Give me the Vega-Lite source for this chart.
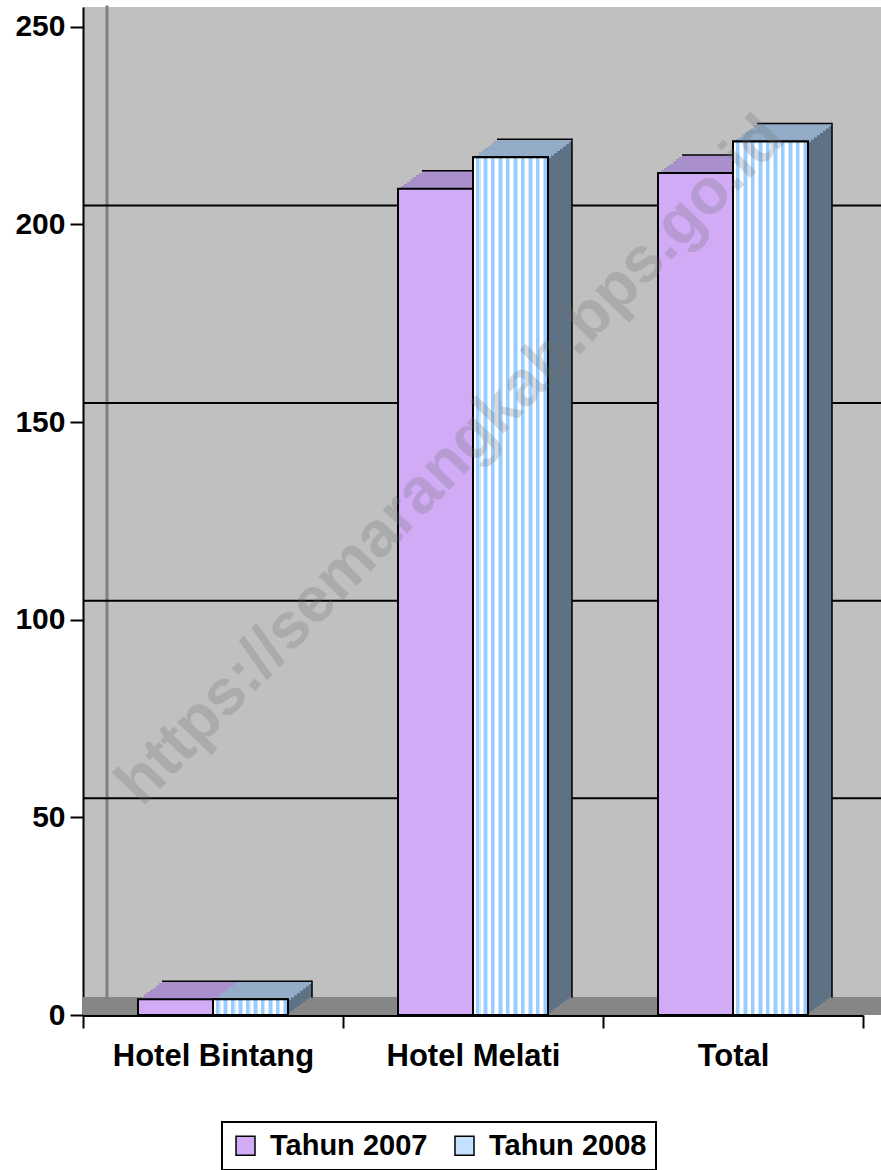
{
  "$schema": "https://vega.github.io/schema/vega-lite/v6.json",
  "width": 798,
  "height": 1008,
  "autosize": "none",
  "padding": {"left": 83, "top": 7, "right": 0, "bottom": 155},
  "background": "white",
  "config": {
    "font": "Liberation Sans",
    "view": {"fill": "#c0c0c0", "stroke": null},
    "axis": {"labelFont": "Liberation Sans", "labelFontWeight": "bold", "labelColor": "black", "domainColor": "black", "tickColor": "black", "grid": false, "labelLimit": 400},
    "axisX": {"domainWidth": 3, "tickWidth": 2, "tickSize": 13, "labelFontSize": 31, "labelPadding": 13, "labelAngle": 0},
    "axisY": {"domainWidth": 2, "tickWidth": 2, "tickSize": 13, "labelFontSize": 30, "labelPadding": 5},
    "legend": {"direction": "horizontal", "padding": 9, "strokeColor": "black", "strokeWidth": 2, "fillColor": "white", "symbolType": "square", "symbolSize": 361, "symbolStrokeColor": "black", "symbolStrokeWidth": 1.5, "symbolOpacity": 1, "labelFont": "Liberation Sans", "labelFontSize": 29, "labelFontWeight": "bold", "labelColor": "black", "labelOffset": 10, "columnPadding": 22, "labelLimit": 400}
  },
  "resolve": {"scale": {"xOffset": "independent"}},
  "data": {"values": [
    {"kategori": "Hotel Bintang", "tahun": "Tahun 2007", "jumlah": 4},
    {"kategori": "Hotel Bintang", "tahun": "Tahun 2008", "jumlah": 4},
    {"kategori": "Hotel Melati", "tahun": "Tahun 2007", "jumlah": 209},
    {"kategori": "Hotel Melati", "tahun": "Tahun 2008", "jumlah": 217},
    {"kategori": "Total", "tahun": "Tahun 2007", "jumlah": 213},
    {"kategori": "Total", "tahun": "Tahun 2008", "jumlah": 221}
  ]},
  "layer": [
    {
      "data": {"values": [{"dasar": 0}]},
      "mark": {"type": "rect", "color": "#868686", "y2Offset": -18},
      "encoding": {
        "y": {"field": "dasar", "type": "quantitative", "scale": {"domain": [0, 255], "nice": false}, "axis": {"title": null, "values": [0, 50, 100, 150, 200, 250]}},
        "y2": {"field": "dasar"}
      }
    },
    {
      "data": {"values": [{"dinding": "kiri"}]},
      "mark": {"type": "bar", "width": 0.01, "fill": null, "fillOpacity": 0, "stroke": "#808080", "strokeWidth": 3, "y2Offset": -18},
      "encoding": {
        "x": {"datum": "Hotel Bintang", "type": "nominal", "scale": {"domain": ["Hotel Bintang", "Hotel Melati", "Total"], "range": [0, 780], "paddingInner": 0, "paddingOuter": 0}, "axis": {"title": null, "tickBand": "extent", "labelAngle": 0}},
        "xOffset": {"datum": "Tahun 2007", "type": "nominal", "scale": {"domain": ["Tahun 2007", "Tahun 2008"], "range": [-13.5, 136.5], "paddingInner": 0, "paddingOuter": 0}},
        "y": {"datum": 255, "type": "quantitative", "scale": {"domain": [0, 255], "nice": false}, "axis": {"title": null, "values": [0, 50, 100, 150, 200, 250]}},
        "y2": {"datum": 0}
      }
    },
    {
      "data": {"values": [{"garis": 50}, {"garis": 100}, {"garis": 150}, {"garis": 200}]},
      "mark": {"type": "rule", "color": "black", "strokeWidth": 2, "yOffset": -19},
      "encoding": {
        "y": {"field": "garis", "type": "quantitative", "scale": {"domain": [0, 255], "nice": false}, "axis": {"title": null, "values": [0, 50, 100, 150, 200, 250]}}
      }
    },
    {
      "mark": {"type": "bar", "color": "#5f7184", "yOffset": -18, "y2Offset": -18},
      "encoding": {
        "x": {"field": "kategori", "type": "nominal", "sort": null, "scale": {"domain": ["Hotel Bintang", "Hotel Melati", "Total"], "range": [0, 780], "paddingInner": 0, "paddingOuter": 0}, "axis": {"title": null, "tickBand": "extent", "labelAngle": 0}},
        "xOffset": {"field": "tahun", "type": "nominal", "scale": {"domain": ["Tahun 2007", "Tahun 2008"], "range": [79, 229], "paddingInner": 0, "paddingOuter": 0}},
        "y": {"field": "jumlah", "type": "quantitative", "scale": {"domain": [0, 255], "nice": false}, "axis": {"title": null, "values": [0, 50, 100, 150, 200, 250]}},
        "y2": {"datum": 0}
      }
    },
    {
      "mark": {"type": "bar", "color": "#5f7184", "yOffset": -15.75, "y2Offset": -15.75},
      "encoding": {
        "x": {"field": "kategori", "type": "nominal", "sort": null, "scale": {"domain": ["Hotel Bintang", "Hotel Melati", "Total"], "range": [0, 780], "paddingInner": 0, "paddingOuter": 0}, "axis": {"title": null, "tickBand": "extent", "labelAngle": 0}},
        "xOffset": {"field": "tahun", "type": "nominal", "scale": {"domain": ["Tahun 2007", "Tahun 2008"], "range": [76, 226], "paddingInner": 0, "paddingOuter": 0}},
        "y": {"field": "jumlah", "type": "quantitative", "scale": {"domain": [0, 255], "nice": false}, "axis": {"title": null, "values": [0, 50, 100, 150, 200, 250]}},
        "y2": {"datum": 0}
      }
    },
    {
      "mark": {"type": "bar", "color": "#5f7184", "yOffset": -13.5, "y2Offset": -13.5},
      "encoding": {
        "x": {"field": "kategori", "type": "nominal", "sort": null, "scale": {"domain": ["Hotel Bintang", "Hotel Melati", "Total"], "range": [0, 780], "paddingInner": 0, "paddingOuter": 0}, "axis": {"title": null, "tickBand": "extent", "labelAngle": 0}},
        "xOffset": {"field": "tahun", "type": "nominal", "scale": {"domain": ["Tahun 2007", "Tahun 2008"], "range": [73, 223], "paddingInner": 0, "paddingOuter": 0}},
        "y": {"field": "jumlah", "type": "quantitative", "scale": {"domain": [0, 255], "nice": false}, "axis": {"title": null, "values": [0, 50, 100, 150, 200, 250]}},
        "y2": {"datum": 0}
      }
    },
    {
      "mark": {"type": "bar", "color": "#5f7184", "yOffset": -11.25, "y2Offset": -11.25},
      "encoding": {
        "x": {"field": "kategori", "type": "nominal", "sort": null, "scale": {"domain": ["Hotel Bintang", "Hotel Melati", "Total"], "range": [0, 780], "paddingInner": 0, "paddingOuter": 0}, "axis": {"title": null, "tickBand": "extent", "labelAngle": 0}},
        "xOffset": {"field": "tahun", "type": "nominal", "scale": {"domain": ["Tahun 2007", "Tahun 2008"], "range": [70, 220], "paddingInner": 0, "paddingOuter": 0}},
        "y": {"field": "jumlah", "type": "quantitative", "scale": {"domain": [0, 255], "nice": false}, "axis": {"title": null, "values": [0, 50, 100, 150, 200, 250]}},
        "y2": {"datum": 0}
      }
    },
    {
      "mark": {"type": "bar", "color": "#5f7184", "yOffset": -9, "y2Offset": -9},
      "encoding": {
        "x": {"field": "kategori", "type": "nominal", "sort": null, "scale": {"domain": ["Hotel Bintang", "Hotel Melati", "Total"], "range": [0, 780], "paddingInner": 0, "paddingOuter": 0}, "axis": {"title": null, "tickBand": "extent", "labelAngle": 0}},
        "xOffset": {"field": "tahun", "type": "nominal", "scale": {"domain": ["Tahun 2007", "Tahun 2008"], "range": [67, 217], "paddingInner": 0, "paddingOuter": 0}},
        "y": {"field": "jumlah", "type": "quantitative", "scale": {"domain": [0, 255], "nice": false}, "axis": {"title": null, "values": [0, 50, 100, 150, 200, 250]}},
        "y2": {"datum": 0}
      }
    },
    {
      "mark": {"type": "bar", "color": "#5f7184", "yOffset": -6.75, "y2Offset": -6.75},
      "encoding": {
        "x": {"field": "kategori", "type": "nominal", "sort": null, "scale": {"domain": ["Hotel Bintang", "Hotel Melati", "Total"], "range": [0, 780], "paddingInner": 0, "paddingOuter": 0}, "axis": {"title": null, "tickBand": "extent", "labelAngle": 0}},
        "xOffset": {"field": "tahun", "type": "nominal", "scale": {"domain": ["Tahun 2007", "Tahun 2008"], "range": [64, 214], "paddingInner": 0, "paddingOuter": 0}},
        "y": {"field": "jumlah", "type": "quantitative", "scale": {"domain": [0, 255], "nice": false}, "axis": {"title": null, "values": [0, 50, 100, 150, 200, 250]}},
        "y2": {"datum": 0}
      }
    },
    {
      "mark": {"type": "bar", "color": "#5f7184", "yOffset": -4.5, "y2Offset": -4.5},
      "encoding": {
        "x": {"field": "kategori", "type": "nominal", "sort": null, "scale": {"domain": ["Hotel Bintang", "Hotel Melati", "Total"], "range": [0, 780], "paddingInner": 0, "paddingOuter": 0}, "axis": {"title": null, "tickBand": "extent", "labelAngle": 0}},
        "xOffset": {"field": "tahun", "type": "nominal", "scale": {"domain": ["Tahun 2007", "Tahun 2008"], "range": [61, 211], "paddingInner": 0, "paddingOuter": 0}},
        "y": {"field": "jumlah", "type": "quantitative", "scale": {"domain": [0, 255], "nice": false}, "axis": {"title": null, "values": [0, 50, 100, 150, 200, 250]}},
        "y2": {"datum": 0}
      }
    },
    {
      "mark": {"type": "bar", "color": "#5f7184", "yOffset": -2.25, "y2Offset": -2.25},
      "encoding": {
        "x": {"field": "kategori", "type": "nominal", "sort": null, "scale": {"domain": ["Hotel Bintang", "Hotel Melati", "Total"], "range": [0, 780], "paddingInner": 0, "paddingOuter": 0}, "axis": {"title": null, "tickBand": "extent", "labelAngle": 0}},
        "xOffset": {"field": "tahun", "type": "nominal", "scale": {"domain": ["Tahun 2007", "Tahun 2008"], "range": [58, 208], "paddingInner": 0, "paddingOuter": 0}},
        "y": {"field": "jumlah", "type": "quantitative", "scale": {"domain": [0, 255], "nice": false}, "axis": {"title": null, "values": [0, 50, 100, 150, 200, 250]}},
        "y2": {"datum": 0}
      }
    },
    {
      "mark": {"type": "bar", "yOffset": -18, "y2Offset": -15.25},
      "encoding": {
        "x": {"field": "kategori", "type": "nominal", "sort": null, "scale": {"domain": ["Hotel Bintang", "Hotel Melati", "Total"], "range": [0, 780], "paddingInner": 0, "paddingOuter": 0}, "axis": {"title": null, "tickBand": "extent", "labelAngle": 0}},
        "xOffset": {"field": "tahun", "type": "nominal", "scale": {"domain": ["Tahun 2007", "Tahun 2008"], "range": [79, 229], "paddingInner": 0, "paddingOuter": 0}},
        "y": {"field": "jumlah", "type": "quantitative", "scale": {"domain": [0, 255], "nice": false}, "axis": {"title": null, "values": [0, 50, 100, 150, 200, 250]}},
        "y2": {"field": "jumlah"},
        "color": {"condition": {"test": "datum.tahun === 'Tahun 2007'", "value": "#a98fcc"}, "value": "#93adc8"}
      }
    },
    {
      "mark": {"type": "bar", "yOffset": -15.75, "y2Offset": -13},
      "encoding": {
        "x": {"field": "kategori", "type": "nominal", "sort": null, "scale": {"domain": ["Hotel Bintang", "Hotel Melati", "Total"], "range": [0, 780], "paddingInner": 0, "paddingOuter": 0}, "axis": {"title": null, "tickBand": "extent", "labelAngle": 0}},
        "xOffset": {"field": "tahun", "type": "nominal", "scale": {"domain": ["Tahun 2007", "Tahun 2008"], "range": [76, 226], "paddingInner": 0, "paddingOuter": 0}},
        "y": {"field": "jumlah", "type": "quantitative", "scale": {"domain": [0, 255], "nice": false}, "axis": {"title": null, "values": [0, 50, 100, 150, 200, 250]}},
        "y2": {"field": "jumlah"},
        "color": {"condition": {"test": "datum.tahun === 'Tahun 2007'", "value": "#a98fcc"}, "value": "#93adc8"}
      }
    },
    {
      "mark": {"type": "bar", "yOffset": -13.5, "y2Offset": -10.75},
      "encoding": {
        "x": {"field": "kategori", "type": "nominal", "sort": null, "scale": {"domain": ["Hotel Bintang", "Hotel Melati", "Total"], "range": [0, 780], "paddingInner": 0, "paddingOuter": 0}, "axis": {"title": null, "tickBand": "extent", "labelAngle": 0}},
        "xOffset": {"field": "tahun", "type": "nominal", "scale": {"domain": ["Tahun 2007", "Tahun 2008"], "range": [73, 223], "paddingInner": 0, "paddingOuter": 0}},
        "y": {"field": "jumlah", "type": "quantitative", "scale": {"domain": [0, 255], "nice": false}, "axis": {"title": null, "values": [0, 50, 100, 150, 200, 250]}},
        "y2": {"field": "jumlah"},
        "color": {"condition": {"test": "datum.tahun === 'Tahun 2007'", "value": "#a98fcc"}, "value": "#93adc8"}
      }
    },
    {
      "mark": {"type": "bar", "yOffset": -11.25, "y2Offset": -8.5},
      "encoding": {
        "x": {"field": "kategori", "type": "nominal", "sort": null, "scale": {"domain": ["Hotel Bintang", "Hotel Melati", "Total"], "range": [0, 780], "paddingInner": 0, "paddingOuter": 0}, "axis": {"title": null, "tickBand": "extent", "labelAngle": 0}},
        "xOffset": {"field": "tahun", "type": "nominal", "scale": {"domain": ["Tahun 2007", "Tahun 2008"], "range": [70, 220], "paddingInner": 0, "paddingOuter": 0}},
        "y": {"field": "jumlah", "type": "quantitative", "scale": {"domain": [0, 255], "nice": false}, "axis": {"title": null, "values": [0, 50, 100, 150, 200, 250]}},
        "y2": {"field": "jumlah"},
        "color": {"condition": {"test": "datum.tahun === 'Tahun 2007'", "value": "#a98fcc"}, "value": "#93adc8"}
      }
    },
    {
      "mark": {"type": "bar", "yOffset": -9, "y2Offset": -6.25},
      "encoding": {
        "x": {"field": "kategori", "type": "nominal", "sort": null, "scale": {"domain": ["Hotel Bintang", "Hotel Melati", "Total"], "range": [0, 780], "paddingInner": 0, "paddingOuter": 0}, "axis": {"title": null, "tickBand": "extent", "labelAngle": 0}},
        "xOffset": {"field": "tahun", "type": "nominal", "scale": {"domain": ["Tahun 2007", "Tahun 2008"], "range": [67, 217], "paddingInner": 0, "paddingOuter": 0}},
        "y": {"field": "jumlah", "type": "quantitative", "scale": {"domain": [0, 255], "nice": false}, "axis": {"title": null, "values": [0, 50, 100, 150, 200, 250]}},
        "y2": {"field": "jumlah"},
        "color": {"condition": {"test": "datum.tahun === 'Tahun 2007'", "value": "#a98fcc"}, "value": "#93adc8"}
      }
    },
    {
      "mark": {"type": "bar", "yOffset": -6.75, "y2Offset": -4},
      "encoding": {
        "x": {"field": "kategori", "type": "nominal", "sort": null, "scale": {"domain": ["Hotel Bintang", "Hotel Melati", "Total"], "range": [0, 780], "paddingInner": 0, "paddingOuter": 0}, "axis": {"title": null, "tickBand": "extent", "labelAngle": 0}},
        "xOffset": {"field": "tahun", "type": "nominal", "scale": {"domain": ["Tahun 2007", "Tahun 2008"], "range": [64, 214], "paddingInner": 0, "paddingOuter": 0}},
        "y": {"field": "jumlah", "type": "quantitative", "scale": {"domain": [0, 255], "nice": false}, "axis": {"title": null, "values": [0, 50, 100, 150, 200, 250]}},
        "y2": {"field": "jumlah"},
        "color": {"condition": {"test": "datum.tahun === 'Tahun 2007'", "value": "#a98fcc"}, "value": "#93adc8"}
      }
    },
    {
      "mark": {"type": "bar", "yOffset": -4.5, "y2Offset": -1.75},
      "encoding": {
        "x": {"field": "kategori", "type": "nominal", "sort": null, "scale": {"domain": ["Hotel Bintang", "Hotel Melati", "Total"], "range": [0, 780], "paddingInner": 0, "paddingOuter": 0}, "axis": {"title": null, "tickBand": "extent", "labelAngle": 0}},
        "xOffset": {"field": "tahun", "type": "nominal", "scale": {"domain": ["Tahun 2007", "Tahun 2008"], "range": [61, 211], "paddingInner": 0, "paddingOuter": 0}},
        "y": {"field": "jumlah", "type": "quantitative", "scale": {"domain": [0, 255], "nice": false}, "axis": {"title": null, "values": [0, 50, 100, 150, 200, 250]}},
        "y2": {"field": "jumlah"},
        "color": {"condition": {"test": "datum.tahun === 'Tahun 2007'", "value": "#a98fcc"}, "value": "#93adc8"}
      }
    },
    {
      "mark": {"type": "bar", "yOffset": -2.25, "y2Offset": 0.5},
      "encoding": {
        "x": {"field": "kategori", "type": "nominal", "sort": null, "scale": {"domain": ["Hotel Bintang", "Hotel Melati", "Total"], "range": [0, 780], "paddingInner": 0, "paddingOuter": 0}, "axis": {"title": null, "tickBand": "extent", "labelAngle": 0}},
        "xOffset": {"field": "tahun", "type": "nominal", "scale": {"domain": ["Tahun 2007", "Tahun 2008"], "range": [58, 208], "paddingInner": 0, "paddingOuter": 0}},
        "y": {"field": "jumlah", "type": "quantitative", "scale": {"domain": [0, 255], "nice": false}, "axis": {"title": null, "values": [0, 50, 100, 150, 200, 250]}},
        "y2": {"field": "jumlah"},
        "color": {"condition": {"test": "datum.tahun === 'Tahun 2007'", "value": "#a98fcc"}, "value": "#93adc8"}
      }
    },
    {
      "mark": {"type": "bar", "fill": null, "fillOpacity": 0, "stroke": "black", "strokeWidth": 1.5, "yOffset": -18, "y2Offset": -18},
      "encoding": {
        "x": {"field": "kategori", "type": "nominal", "sort": null, "scale": {"domain": ["Hotel Bintang", "Hotel Melati", "Total"], "range": [0, 780], "paddingInner": 0, "paddingOuter": 0}, "axis": {"title": null, "tickBand": "extent", "labelAngle": 0}},
        "xOffset": {"field": "tahun", "type": "nominal", "scale": {"domain": ["Tahun 2007", "Tahun 2008"], "range": [79, 229], "paddingInner": 0, "paddingOuter": 0}},
        "y": {"field": "jumlah", "type": "quantitative", "scale": {"domain": [0, 255], "nice": false}, "axis": {"title": null, "values": [0, 50, 100, 150, 200, 250]}},
        "y2": {"field": "jumlah"}
      }
    },
    {
      "transform": [{"filter": "datum.tahun === 'Tahun 2008'"}],
      "mark": {"type": "bar", "fill": null, "fillOpacity": 0, "stroke": "black", "strokeWidth": 1.5, "width": 0.01, "yOffset": -18, "y2Offset": -18},
      "encoding": {
        "x": {"field": "kategori", "type": "nominal", "sort": null, "scale": {"domain": ["Hotel Bintang", "Hotel Melati", "Total"], "range": [0, 780], "paddingInner": 0, "paddingOuter": 0}, "axis": {"title": null, "tickBand": "extent", "labelAngle": 0}},
        "xOffset": {"field": "tahun", "type": "nominal", "scale": {"domain": ["Tahun 2007", "Tahun 2008"], "range": [116.5, 266.5], "paddingInner": 0, "paddingOuter": 0}},
        "y": {"field": "jumlah", "type": "quantitative", "scale": {"domain": [0, 255], "nice": false}, "axis": {"title": null, "values": [0, 50, 100, 150, 200, 250]}},
        "y2": {"datum": 0}
      }
    },
    {
      "mark": {"type": "bar", "stroke": "black", "strokeWidth": 2},
      "encoding": {
        "x": {"field": "kategori", "type": "nominal", "sort": null, "scale": {"domain": ["Hotel Bintang", "Hotel Melati", "Total"], "range": [0, 780], "paddingInner": 0, "paddingOuter": 0}, "axis": {"title": null, "tickBand": "extent", "labelAngle": 0}},
        "xOffset": {"field": "tahun", "type": "nominal", "scale": {"domain": ["Tahun 2007", "Tahun 2008"], "range": [55, 205], "paddingInner": 0, "paddingOuter": 0}},
        "y": {"field": "jumlah", "type": "quantitative", "scale": {"domain": [0, 255], "nice": false}, "axis": {"title": null, "values": [0, 50, 100, 150, 200, 250]}},
        "color": {"field": "tahun", "type": "nominal", "scale": {"domain": ["Tahun 2007", "Tahun 2008"], "range": ["#d1abf6", "#c4e2ff"]}, "legend": {"title": null, "orient": "none", "legendX": 139, "legendY": 1115, "direction": "horizontal"}}
      }
    },
    {
      "transform": [{"filter": "datum.tahun === 'Tahun 2008'"}],
      "mark": {"type": "bar", "stroke": "black", "strokeWidth": 2, "fill": {"gradient": "linear", "x1": 0, "y1": 0, "x2": 1, "y2": 0, "stops": [
        {"offset": 0, "color": "#ffffff"}, {"offset": 0.035, "color": "#ffffff"}, {"offset": 0.035, "color": "#cce6ff"}, {"offset": 0.045, "color": "#cce6ff"}, {"offset": 0.045, "color": "#99ccff"}, {"offset": 0.085, "color": "#99ccff"}, {"offset": 0.085, "color": "#cce6ff"}, {"offset": 0.1, "color": "#cce6ff"},
        {"offset": 0.1, "color": "#ffffff"}, {"offset": 0.135, "color": "#ffffff"}, {"offset": 0.135, "color": "#cce6ff"}, {"offset": 0.145, "color": "#cce6ff"}, {"offset": 0.145, "color": "#99ccff"}, {"offset": 0.185, "color": "#99ccff"}, {"offset": 0.185, "color": "#cce6ff"}, {"offset": 0.2, "color": "#cce6ff"},
        {"offset": 0.2, "color": "#ffffff"}, {"offset": 0.235, "color": "#ffffff"}, {"offset": 0.235, "color": "#cce6ff"}, {"offset": 0.245, "color": "#cce6ff"}, {"offset": 0.245, "color": "#99ccff"}, {"offset": 0.285, "color": "#99ccff"}, {"offset": 0.285, "color": "#cce6ff"}, {"offset": 0.3, "color": "#cce6ff"},
        {"offset": 0.3, "color": "#ffffff"}, {"offset": 0.335, "color": "#ffffff"}, {"offset": 0.335, "color": "#cce6ff"}, {"offset": 0.345, "color": "#cce6ff"}, {"offset": 0.345, "color": "#99ccff"}, {"offset": 0.385, "color": "#99ccff"}, {"offset": 0.385, "color": "#cce6ff"}, {"offset": 0.4, "color": "#cce6ff"},
        {"offset": 0.4, "color": "#ffffff"}, {"offset": 0.435, "color": "#ffffff"}, {"offset": 0.435, "color": "#cce6ff"}, {"offset": 0.445, "color": "#cce6ff"}, {"offset": 0.445, "color": "#99ccff"}, {"offset": 0.485, "color": "#99ccff"}, {"offset": 0.485, "color": "#cce6ff"}, {"offset": 0.5, "color": "#cce6ff"},
        {"offset": 0.5, "color": "#ffffff"}, {"offset": 0.535, "color": "#ffffff"}, {"offset": 0.535, "color": "#cce6ff"}, {"offset": 0.545, "color": "#cce6ff"}, {"offset": 0.545, "color": "#99ccff"}, {"offset": 0.585, "color": "#99ccff"}, {"offset": 0.585, "color": "#cce6ff"}, {"offset": 0.6, "color": "#cce6ff"},
        {"offset": 0.6, "color": "#ffffff"}, {"offset": 0.635, "color": "#ffffff"}, {"offset": 0.635, "color": "#cce6ff"}, {"offset": 0.645, "color": "#cce6ff"}, {"offset": 0.645, "color": "#99ccff"}, {"offset": 0.685, "color": "#99ccff"}, {"offset": 0.685, "color": "#cce6ff"}, {"offset": 0.7, "color": "#cce6ff"},
        {"offset": 0.7, "color": "#ffffff"}, {"offset": 0.735, "color": "#ffffff"}, {"offset": 0.735, "color": "#cce6ff"}, {"offset": 0.745, "color": "#cce6ff"}, {"offset": 0.745, "color": "#99ccff"}, {"offset": 0.785, "color": "#99ccff"}, {"offset": 0.785, "color": "#cce6ff"}, {"offset": 0.8, "color": "#cce6ff"},
        {"offset": 0.8, "color": "#ffffff"}, {"offset": 0.835, "color": "#ffffff"}, {"offset": 0.835, "color": "#cce6ff"}, {"offset": 0.845, "color": "#cce6ff"}, {"offset": 0.845, "color": "#99ccff"}, {"offset": 0.885, "color": "#99ccff"}, {"offset": 0.885, "color": "#cce6ff"}, {"offset": 0.9, "color": "#cce6ff"},
        {"offset": 0.9, "color": "#ffffff"}, {"offset": 0.935, "color": "#ffffff"}, {"offset": 0.935, "color": "#cce6ff"}, {"offset": 0.945, "color": "#cce6ff"}, {"offset": 0.945, "color": "#99ccff"}, {"offset": 0.985, "color": "#99ccff"}, {"offset": 0.985, "color": "#cce6ff"}, {"offset": 1, "color": "#cce6ff"}
      ]}},
      "encoding": {
        "x": {"field": "kategori", "type": "nominal", "sort": null, "scale": {"domain": ["Hotel Bintang", "Hotel Melati", "Total"], "range": [0, 780], "paddingInner": 0, "paddingOuter": 0}, "axis": {"title": null, "tickBand": "extent", "labelAngle": 0}},
        "xOffset": {"field": "tahun", "type": "nominal", "scale": {"domain": ["Tahun 2007", "Tahun 2008"], "range": [55, 205], "paddingInner": 0, "paddingOuter": 0}},
        "y": {"field": "jumlah", "type": "quantitative", "scale": {"domain": [0, 255], "nice": false}, "axis": {"title": null, "values": [0, 50, 100, 150, 200, 250]}}
      }
    },
    {
      "data": {"values": [{"teks": "https://semarangkab.bps.go.id", "kategori": "Hotel Melati", "posisi": 146}]},
      "mark": {"type": "text", "angle": -46, "fontSize": 64, "fontWeight": "bold", "font": "Liberation Sans", "color": "#6e6e6e", "opacity": 0.25, "align": "center", "baseline": "middle", "dx": -32},
      "encoding": {
        "x": {"field": "kategori", "type": "nominal", "sort": null, "scale": {"domain": ["Hotel Bintang", "Hotel Melati", "Total"], "range": [0, 780], "paddingInner": 0, "paddingOuter": 0}, "axis": {"title": null, "tickBand": "extent", "labelAngle": 0}},
        "y": {"field": "posisi", "type": "quantitative", "scale": {"domain": [0, 255], "nice": false}, "axis": {"title": null, "values": [0, 50, 100, 150, 200, 250]}},
        "text": {"field": "teks"}
      }
    }
  ]
}
